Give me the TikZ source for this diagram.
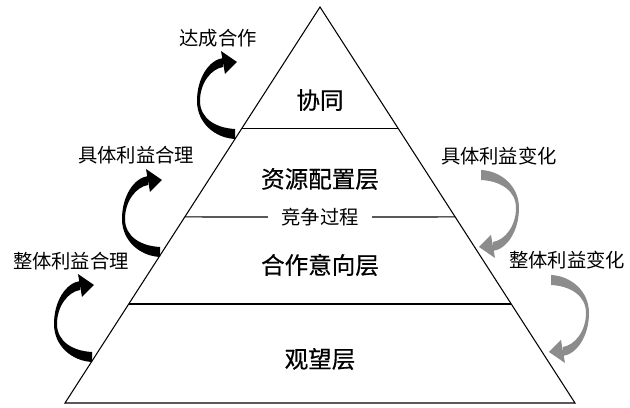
\documentclass[tikz,border=0pt]{standalone}
\usepackage{fontspec}
\setmainfont{Noto Sans CJK SC}
\newfontfamily\heavycjk[FakeBold=0.6]{Noto Sans CJK SC}
\usepackage{tikz,xcolor}
\usetikzlibrary{calc}
\definecolor{arrowgray}{RGB}{140,140,140}

% curled ribbon arrow, tail at bottom, head at top pointing right
\tikzset{
  ribbon/.pic={
    \fill[pic actions] (0,-41) .. controls (-20,-40) and (-38,-25) .. (-38,-3)
      .. controls (-38,20) and (-26,38) .. (-12,40) -- (-12,31)
      .. controls (-24,29) and (-35,15) .. (-35,-3)
      .. controls (-35,-20) and (-20,-30) .. (0,-31) -- cycle;
    \fill[pic actions] (-14,47) -- (2,36) -- (-10,24) -- cycle;
  }
}

\begin{document}
\begin{tikzpicture}[x=0.02cm,y=0.02cm]

    \useasboundingbox (0,0) rectangle (630,408);
    \tikzstyle{layer}=[font=\heavycjk\fontsize{13.4}{15}\selectfont]
    \tikzstyle{side}=[font=\fontsize{11}{13}\selectfont]

    \coordinate (top) at (320,401);
    \coordinate (bl) at (65,5);
    \coordinate (br) at (575,5);
    \draw[line width=0.6pt] (bl)--(top)--(br)--cycle;

    % splits between the layers
    \coordinate (s1l) at ($(bl)!0.694!(top)$);
    \coordinate (s1r) at ($(br)!0.694!(top)$);
    \coordinate (s2l) at ($(bl)!0.470!(top)$);
    \coordinate (s2r) at ($(br)!0.470!(top)$);
    \coordinate (s3l) at ($(bl)!0.25!(top)$);
    \coordinate (s3r) at ($(br)!0.25!(top)$);

    \node[layer](xt) at (320,308){协同};
    \node[layer](zy) at (320,229){资源配置层};
    \node[side,inner sep=7.5pt](jz) at (320,191){竞争过程};
    \node[layer](hz) at (320,143){合作意向层};
    \node[layer](gw) at (320,49){观望层};

    \draw[line width=0.7pt](s1l)--(s1r);
    \draw[line width=0.7pt](s2l)--(jz)--(s2r);
    \draw[line width=0.7pt](s3l)--(s3r);

    % labels beside the pyramid
    \node[side](dc) at (218,370){达成合作};
    \node[side](jl) at (136,253){具体利益合理};
    \node[side](zl) at (71,147){整体利益合理};
    \node[side](jb) at (499,252){具体利益变化};
    \node[side](zb) at (567,148){整体利益变化};

    % curled arrows
    \pic[fill=black] at (235,310) {ribbon};
    \pic[fill=black] at (160,192) {ribbon};
    \pic[fill=black] at (92,87) {ribbon};
    \pic[fill=arrowgray,rotate=180] at (481,197) {ribbon};
    \pic[fill=arrowgray,rotate=180] at (551,92) {ribbon};

\end{tikzpicture}
\end{document}
